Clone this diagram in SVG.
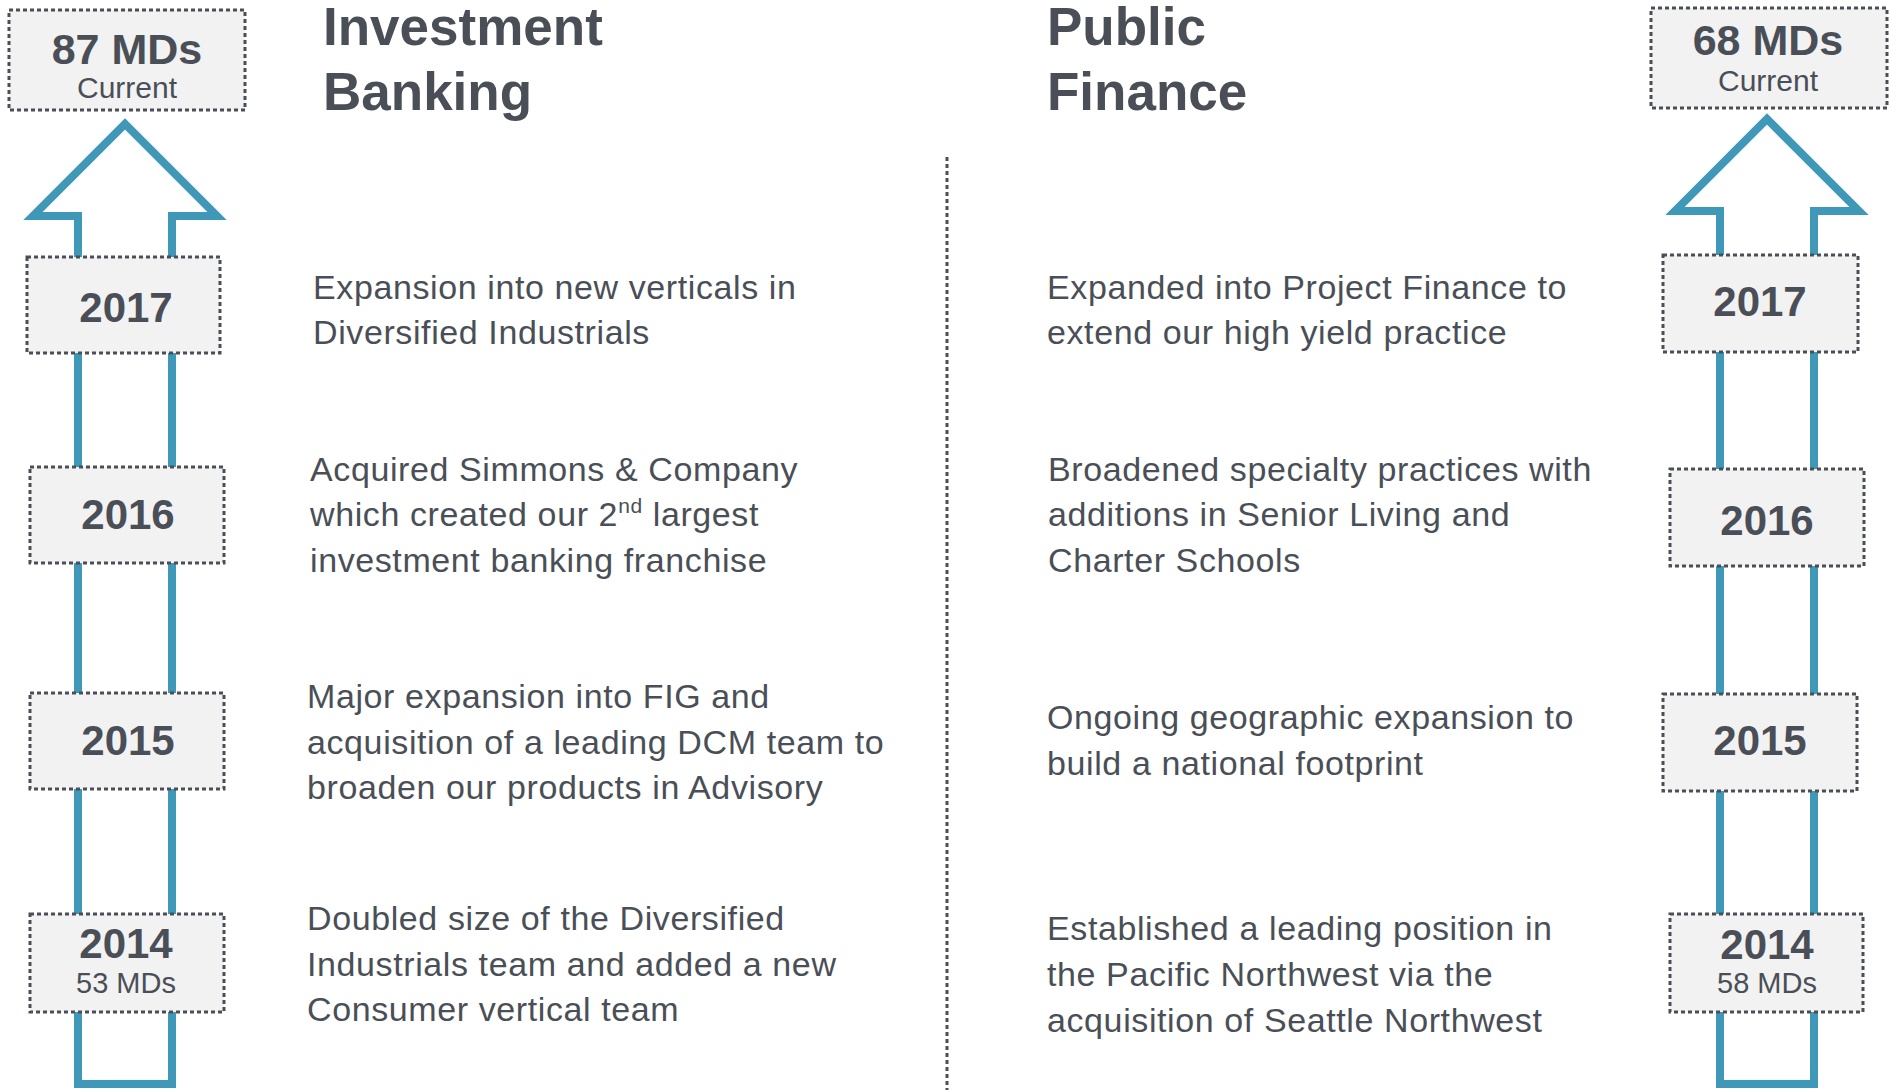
<svg xmlns="http://www.w3.org/2000/svg" width="1889" height="1090" viewBox="0 0 1889 1090">
<style>
.box{fill:#f2f2f2;stroke:#4a4f57;stroke-width:3;stroke-dasharray:4 3}
.yr{font-family:"Liberation Sans",Arial,sans-serif;font-weight:bold;font-size:42px;fill:#4a4f57;text-anchor:middle}
.md{font-family:"Liberation Sans",Arial,sans-serif;font-weight:bold;font-size:43px;fill:#4a4f57;text-anchor:middle}
.sub{font-family:"Liberation Sans",Arial,sans-serif;font-size:29px;fill:#4a4f57;text-anchor:middle}
.cur{font-family:"Liberation Sans",Arial,sans-serif;font-size:30px;fill:#4a4f57;text-anchor:middle}
.head{font-family:"Liberation Sans",Arial,sans-serif;font-weight:bold;font-size:53px;fill:#4a4f57}
.body{font-family:"Liberation Sans",Arial,sans-serif;font-size:34px;letter-spacing:0.6px;fill:#4a4f57}
.arrow{fill:none;stroke:#3f98b7;stroke-width:8;stroke-linejoin:miter}
.divider{stroke:#4a4f57;stroke-width:3;stroke-dasharray:4 3}
</style>
<rect width="1889" height="1090" fill="#ffffff"/>
<g id="connectors">
<polygon class="arrow" points="78,216 33,216 125,124 217,216 172,216 172,1084 78,1084"/>
<polygon class="arrow" points="1720,211 1675,211 1767,119 1859,211 1814,211 1814,1084 1720,1084"/>
</g>
<g id="divider"><line class="divider" x1="947" y1="157" x2="947" y2="1090"/></g>
<g id="ib-title"><text class="head" x="323" y="45">Investment</text><text class="head" x="323" y="110">Banking</text></g>
<g id="pf-title"><text class="head" x="1047" y="45">Public</text><text class="head" x="1047" y="110">Finance</text></g>
<g id="ib-current"><rect class="box" x="9" y="10" width="236" height="100"/><text class="md" x="127" y="64">87 MDs</text><text class="cur" x="127" y="98">Current</text></g>
<g id="ib-2017"><rect class="box" x="27" y="257" width="193" height="96"/><text class="yr" x="126" y="322">2017</text></g>
<g id="ib-2016"><rect class="box" x="30" y="467" width="194" height="96"/><text class="yr" x="128" y="529">2016</text></g>
<g id="ib-2015"><rect class="box" x="30" y="693" width="194" height="96"/><text class="yr" x="128" y="755">2015</text></g>
<g id="ib-2014"><rect class="box" x="30" y="914" width="194" height="98"/><text class="yr" x="126" y="958">2014</text><text class="sub" x="126" y="993">53 MDs</text></g>
<g id="pf-current"><rect class="box" x="1651" y="8" width="236" height="100"/><text class="md" x="1768" y="55">68 MDs</text><text class="cur" x="1768" y="91">Current</text></g>
<g id="pf-2017"><rect class="box" x="1663" y="255" width="195" height="97"/><text class="yr" x="1760" y="316">2017</text></g>
<g id="pf-2016"><rect class="box" x="1670" y="469" width="194" height="97"/><text class="yr" x="1767" y="535">2016</text></g>
<g id="pf-2015"><rect class="box" x="1663" y="694" width="194" height="97"/><text class="yr" x="1760" y="755">2015</text></g>
<g id="pf-2014"><rect class="box" x="1670" y="914" width="193" height="98"/><text class="yr" x="1767" y="959">2014</text><text class="sub" x="1767" y="993">58 MDs</text></g>
<g id="ib-text-2017"><text class="body" x="313" y="299">Expansion into new verticals in</text><text class="body" x="313" y="344">Diversified Industrials</text></g>
<g id="ib-text-2016"><text class="body" x="310" y="481">Acquired Simmons &amp; Company</text><text class="body" x="310" y="526">which created our 2<tspan font-size="21" dy="-13">nd</tspan><tspan dy="13"> largest</tspan></text><text class="body" x="310" y="572">investment banking franchise</text></g>
<g id="ib-text-2015"><text class="body" x="307" y="708">Major expansion into FIG and</text><text class="body" x="307" y="754">acquisition of a leading DCM team to</text><text class="body" x="307" y="799">broaden our products in Advisory</text></g>
<g id="ib-text-2014"><text class="body" x="307" y="930">Doubled size of the Diversified</text><text class="body" x="307" y="976">Industrials team and added a new</text><text class="body" x="307" y="1021">Consumer vertical team</text></g>
<g id="pf-text-2017"><text class="body" x="1047" y="299">Expanded into Project Finance to</text><text class="body" x="1047" y="344">extend our high yield practice</text></g>
<g id="pf-text-2016"><text class="body" x="1048" y="481">Broadened specialty practices with</text><text class="body" x="1048" y="526">additions in Senior Living and</text><text class="body" x="1048" y="572">Charter Schools</text></g>
<g id="pf-text-2015"><text class="body" x="1047" y="729">Ongoing geographic expansion to</text><text class="body" x="1047" y="775">build a national footprint</text></g>
<g id="pf-text-2014"><text class="body" x="1047" y="940">Established a leading position in</text><text class="body" x="1047" y="986">the Pacific Northwest via the</text><text class="body" x="1047" y="1032">acquisition of Seattle Northwest</text></g>
</svg>
